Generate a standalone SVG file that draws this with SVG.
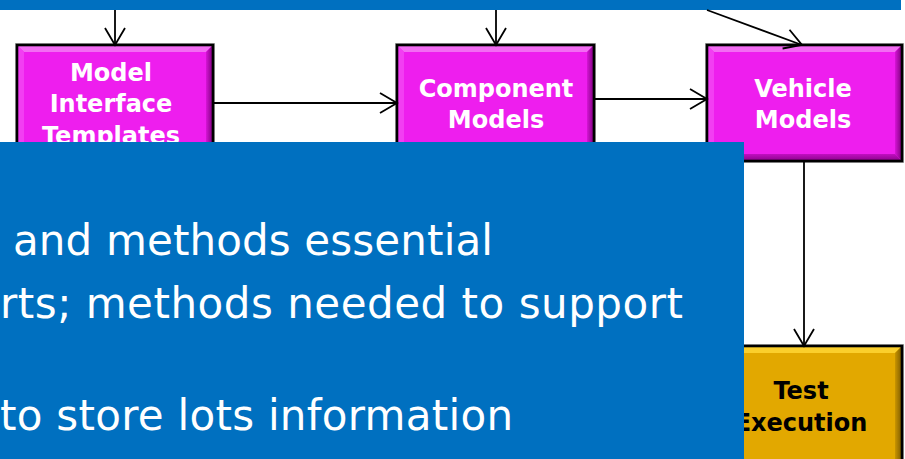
<svg xmlns="http://www.w3.org/2000/svg" width="905" height="459" viewBox="0 0 905 459">
<defs>
<style>
.band{fill:#0070C0}
.frame{fill:none;stroke:#000;stroke-width:2.6}
.halo{fill:none;stroke:#b0b0b0;stroke-width:1}
.mag{fill:#EE1EEE}
.magT{fill:#F36CF3}
.magL{fill:#F23EF2}
.magR{fill:url(#gMagR)}
.magB{fill:url(#gMagB)}
.gold{fill:#E2A800}
.goldT{fill:#FBCF2C}
.goldL{fill:#EDB820}
.goldR{fill:url(#gGoldR)}
.lbl{font-family:"DejaVu Sans",Verdana,sans-serif;font-weight:bold;font-size:24px;text-anchor:middle}
.w{fill:#fff}
.k{fill:#000}
.body{font-family:"DejaVu Sans",Verdana,sans-serif;font-size:42px;fill:#fff}
.conn path{fill:none;stroke:#000;stroke-width:1.8;marker-end:url(#arr)}
</style>
<linearGradient id="gMagR" x1="0" y1="0" x2="1" y2="0"><stop offset="0" stop-color="#D614D6"/><stop offset="1" stop-color="#7A007A"/></linearGradient>
<linearGradient id="gMagB" x1="0" y1="0" x2="0" y2="1"><stop offset="0" stop-color="#C010C0"/><stop offset="1" stop-color="#8A008A"/></linearGradient>
<linearGradient id="gGoldR" x1="0" y1="0" x2="1" y2="0"><stop offset="0" stop-color="#C89400"/><stop offset="1" stop-color="#7A5A00"/></linearGradient>
<marker id="arr" markerUnits="userSpaceOnUse" viewBox="-19 -12 22 24" refX="0" refY="0" markerWidth="22" markerHeight="24" orient="auto">
<path d="M-17,-10 L0,0 L-17,10" fill="none" stroke="#000" stroke-width="1.8"/>
</marker>
</defs>
<rect width="905" height="459" fill="#fff"/>
<rect class="band" x="0" y="0" width="901" height="10"/>

<g id="node-templates">
<rect class="halo" x="15.5" y="43.5" width="199" height="119"/>
<rect class="mag" x="17" y="45" width="196" height="116"/>
<polygon class="magT" points="17,45 213,45 206,52 24,52"/>
<polygon class="magL" points="17,45 24,52 24,154 17,161"/>
<polygon class="magR" points="213,45 213,161 206,154 206,52"/>
<polygon class="magB" points="17,161 24,154 206,154 213,161"/>
<rect class="frame" x="17" y="45" width="196" height="116"/>
<text class="lbl w" x="111" y="81">Model</text>
<text class="lbl w" x="111" y="112">Interface</text>
<text class="lbl w" x="111" y="144">Templates</text>
</g>

<g id="node-component">
<rect class="halo" x="395.5" y="43.5" width="200" height="119"/>
<rect class="mag" x="397" y="45" width="197" height="116"/>
<polygon class="magT" points="397,45 594,45 587,52 404,52"/>
<polygon class="magL" points="397,45 404,52 404,154 397,161"/>
<polygon class="magR" points="594,45 594,161 587,154 587,52"/>
<polygon class="magB" points="397,161 404,154 587,154 594,161"/>
<rect class="frame" x="397" y="45" width="197" height="116"/>
<text class="lbl w" x="496" y="97">Component</text>
<text class="lbl w" x="496" y="128">Models</text>
</g>

<g id="node-vehicle">
<rect class="halo" x="705.5" y="43.5" width="198" height="119"/>
<rect class="mag" x="707" y="45" width="195" height="116"/>
<polygon class="magT" points="707,45 902,45 895,52 714,52"/>
<polygon class="magL" points="707,45 714,52 714,154 707,161"/>
<polygon class="magR" points="902,45 902,161 895,154 895,52"/>
<polygon class="magB" points="707,161 714,154 895,154 902,161"/>
<rect class="frame" x="707" y="45" width="195" height="116"/>
<text class="lbl w" x="803" y="97">Vehicle</text>
<text class="lbl w" x="803" y="128">Models</text>
</g>

<g id="node-test">
<rect class="halo" x="705.5" y="344.5" width="198" height="130"/>
<rect class="gold" x="707" y="346" width="195" height="128"/>
<polygon class="goldT" points="707,346 902,346 895,353 714,353"/>
<polygon class="goldL" points="707,346 714,353 714,467 707,474"/>
<polygon class="goldR" points="902,346 902,474 895,467 895,353"/>
<rect class="frame" x="707" y="346" width="195" height="128"/>
<text class="lbl k" x="801" y="399">Test</text>
<text class="lbl k" x="801" y="431">Execution</text>
</g>

<g id="connectors" class="conn">
<path d="M115,10 V45"/>
<path d="M496,10 V45"/>
<path d="M707,10 L802,45"/>
<path d="M213,103 H397"/>
<path d="M594,99 H707"/>
<path d="M804,161 V346"/>
</g>

<g id="textpanel">
<rect class="band" x="0" y="142" width="744" height="317"/>
<text class="body" x="13" y="255" textLength="480" lengthAdjust="spacing">and methods essential</text>
<text class="body" x="0" y="318" textLength="683" lengthAdjust="spacing">rts; methods needed to support</text>
<text class="body" x="0" y="430" textLength="513" lengthAdjust="spacing">to store lots information</text>
</g>
</svg>
